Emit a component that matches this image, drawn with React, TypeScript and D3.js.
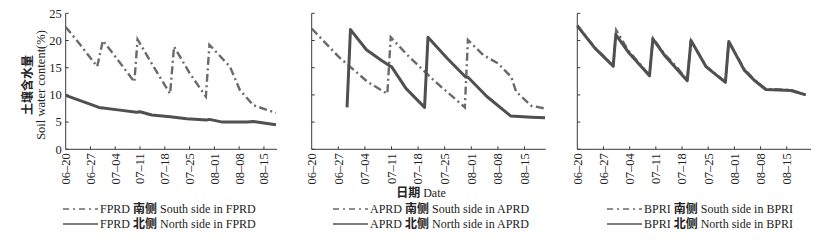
import React from "react";
import * as d3 from "d3";

// ---- data ----
const tickLabels = ["06-20", "06-27", "07-04", "07-11", "07-18", "07-25", "08-01", "08-08", "08-15"];
const tickDays = [0, 7, 14, 21, 28, 35, 42, 49, 56];
const yTicks = [0, 5, 10, 15, 20, 25];

const fprdSouthDay = [0, 4, 8.9, 10.5, 15, 19.4, 20.3, 25, 29.5, 30.6, 35, 39.6, 40.6, 46.4, 49.2, 53, 59.4];
const fprdSouthVal = [22.5, 19.3, 15.2, 20.0, 16.2, 12.4, 20.2, 15.0, 10.2, 18.9, 14.0, 9.7, 19.2, 15.2, 10.9, 8.1, 6.7];
const fprdNorthDay = [0, 9.4, 15.3, 20, 21, 24.3, 29.5, 34.2, 39.8, 40.6, 44.3, 51.2, 53, 59.4];
const fprdNorthVal = [9.9, 7.7, 7.2, 6.8, 6.9, 6.3, 6.0, 5.6, 5.4, 5.5, 5.0, 5.0, 5.1, 4.5];

const aprdSouthDay = [0, 7.1, 14.7, 19.9, 20.8, 25.2, 32.1, 40.3, 41.1, 45.2, 49, 52.5, 53.8, 57.8, 61.4];
const aprdSouthVal = [22.2, 17.0, 12.4, 10.2, 20.6, 17.3, 12.7, 7.7, 20.1, 17.3, 15.8, 13.3, 10.6, 8.0, 7.5];
const aprdNorthDay = [9.3, 10.2, 14.4, 18.2, 20.6, 21, 24.8, 29.7, 30.6, 35.7, 40.5, 41.2, 46.1, 52.4, 57.8, 61.4];
const aprdNorthVal = [7.7, 22.0, 18.3, 16.4, 15.3, 15.2, 11.2, 7.7, 20.6, 16.7, 13.3, 13.2, 9.7, 6.1, 5.9, 5.8];

const bpriSouthDay = [0, 4.7, 9.6, 10.4, 13.6, 19.3, 20.2, 23.3, 26.5, 29.4, 30.4, 34.4, 39.6, 40.5, 44.6, 47.3, 50.4, 57.1, 61.1];
const bpriSouthVal = [22.8, 18.7, 15.4, 21.9, 18.2, 13.6, 20.4, 17.5, 15.2, 12.7, 20.0, 15.3, 12.4, 19.8, 14.8, 12.8, 11.1, 10.9, 10.0];
const bpriNorthDay = [0, 4.7, 9.6, 10.3, 13.6, 19.3, 20.2, 23.3, 29.4, 30.4, 34.4, 39.6, 40.5, 44.6, 47.3, 50.4, 57.1, 61.1];
const bpriNorthVal = [22.7, 18.6, 15.3, 21.1, 17.9, 13.5, 20.3, 17.3, 12.6, 20.0, 15.2, 12.3, 19.8, 14.6, 12.7, 11.0, 10.8, 10.0];

const southLabels = ["FPRD 南侧 South side in FPRD", "APRD 南侧 South side in APRD", "BPRI 南侧 South side in BPRI"];
const northLabels = ["FPRD 北侧 North side in FPRD", "APRD 北侧 North side in APRD", "BPRI 北侧 North side in BPRI"];
const yTitleCn = "土壤含水量";
const yTitleEn = "Soil water content(%)";
const xTitle = "日期 Date";

// ---- layout ----
const layout = [
  { x0: 65.7, ppd: 3.54, dEnd: 59.7, legX: 63 },
  { x0: 311.7, ppd: 3.8, dEnd: 61.6, legX: 333 },
  { x0: 577.3, ppd: 3.74, dEnd: 62.5, legX: 607 },
];
const series = [
  { sd: fprdSouthDay, sv: fprdSouthVal, nd: fprdNorthDay, nv: fprdNorthVal },
  { sd: aprdSouthDay, sv: aprdSouthVal, nd: aprdNorthDay, nv: aprdNorthVal },
  { sd: bpriSouthDay, sv: bpriSouthVal, nd: bpriNorthDay, nv: bpriNorthVal },
];

const SERIF = "'Liberation Serif', 'Times New Roman', serif";
const MIXED = "'Liberation Serif', 'Noto Sans CJK SC', serif";
const CJK = "'Noto Sans CJK SC', sans-serif";
const AX = "#3a3a3a";
const SOLID = "#505050";
const DASH = "#6a6a6a";

const y = d3.scaleLinear().domain([0, 25]).range([149.3, 13.3]);

function MixedText({ x, yy, text, anchor }: { x: number; yy: number; text: string; anchor?: "start" | "middle" }) {
  const parts = text.split(" ");
  const cnIdx = parts.findIndex((p) => /[\u4e00-\u9fff]/.test(p));
  const pre = parts.slice(0, cnIdx).join(" ");
  const cn = parts[cnIdx];
  const post = parts.slice(cnIdx + 1).join(" ");
  return (
    <text x={x} y={yy} textAnchor={anchor || "start"} fontFamily={MIXED} fontSize={12} fill="#222">
      {pre ? pre + " " : ""}
      <tspan fontWeight="bold">{cn}</tspan>
      {" " + post}
    </text>
  );
}

export default function App() {
  const line = d3
    .line<[number, number]>()
    .x((d) => d[0])
    .y((d) => d[1]);

  return (
    <svg
      width={838}
      height={245}
      style={{ position: "absolute", left: 0, top: 0, background: "#fff" }}
    >
      {layout.map((p, i) => {
        const x = d3.scaleLinear().domain([0, p.dEnd]).range([p.x0, p.x0 + p.dEnd * p.ppd]);
        const s = series[i];
        const southPts = s.sd.map((d, k) => [x(d), y(s.sv[k])] as [number, number]);
        const northPts = s.nd.map((d, k) => [x(d), y(s.nv[k])] as [number, number]);
        return (
          <g key={i}>
            {/* axes */}
            <line x1={p.x0} x2={p.x0} y1={y(25)} y2={y(0)} stroke={AX} strokeWidth={1} />
            <line x1={p.x0} x2={x(p.dEnd)} y1={y(0)} y2={y(0)} stroke={AX} strokeWidth={1} />
            {yTicks.map((t) => (
              <g key={t}>
                <line x1={p.x0} x2={p.x0 + 3} y1={y(t)} y2={y(t)} stroke={AX} />
                {i === 0 && (
                  <text x={p.x0 - 4} y={y(t)} dy="0.35em" textAnchor="end" fontFamily={SERIF} fontSize={12.5} fill="#222">
                    {t}
                  </text>
                )}
              </g>
            ))}
            {tickDays.map((d, k) => (
              <g key={d}>
                {k > 0 && <line x1={x(d)} x2={x(d)} y1={y(0)} y2={y(0) - 3} stroke={AX} />}
                <text
                  transform={`translate(${x(d)},${y(0) + 4}) rotate(-90)`}
                  dy="0.35em"
                  textAnchor="end"
                  fontFamily={SERIF}
                  fontSize={12.5}
                  fill="#222"
                >
                  {tickLabels[k].replace("-", "\u2013")}
                </text>
              </g>
            ))}
            {/* series */}
            <path d={line(southPts) || ""} fill="none" stroke={DASH} strokeWidth={2.4} strokeDasharray="8,3.5,2,3.5" />
            <path d={line(northPts) || ""} fill="none" stroke={SOLID} strokeWidth={3} strokeLinejoin="round" />
            {/* legend */}
            <line x1={p.legX} x2={p.legX + 35} y1={209} y2={209} stroke={DASH} strokeWidth={1.3} strokeDasharray="6,4,2,4" />
            <MixedText x={p.legX + 37} yy={213.3} text={southLabels[i]} />
            <line x1={p.legX} x2={p.legX + 35} y1={224} y2={224} stroke={SOLID} strokeWidth={1.5} />
            <MixedText x={p.legX + 37} yy={228.3} text={northLabels[i]} />
          </g>
        );
      })}
      {/* y title */}
      <text
        transform={`translate(27.5,85) rotate(-90)`}
        dy="0.35em"
        textAnchor="middle"
        fontFamily={CJK}
        fontWeight="bold"
        fontSize={12}
        fill="#222"
      >
        {yTitleCn}
      </text>
      <text
        transform={`translate(40.5,85) rotate(-90)`}
        dy="0.35em"
        textAnchor="middle"
        fontFamily={SERIF}
        fontSize={12.5}
        fill="#222"
      >
        {yTitleEn}
      </text>
      {/* x title */}
      <MixedText x={421} yy={196.5} text={xTitle} anchor="middle" />
    </svg>
  );
}
